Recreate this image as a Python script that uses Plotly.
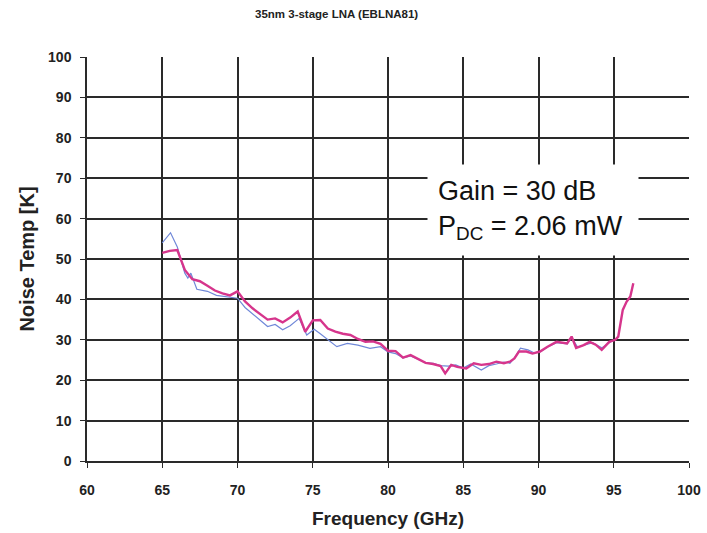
import plotly.graph_objects as go

title_text = "35nm 3-stage LNA (EBLNA81)"
x_title = "Frequency (GHz)"
y_title = "Noise Temp [K]"
x_ticks = [60, 65, 70, 75, 80, 85, 90, 95, 100]
y_ticks = [0, 10, 20, 30, 40, 50, 60, 70, 80, 90, 100]

pink_freq = [65.0, 65.5, 66.0, 66.5, 67.0, 67.5, 68.0, 68.5, 69.0, 69.5, 70.0, 70.5, 71.0, 71.5,
             72.0, 72.5, 73.0, 73.5, 74.0, 74.5, 75.0, 75.5, 76.0, 76.5, 77.0, 77.5, 78.0, 78.5,
             79.0, 79.5, 80.0, 80.5, 81.0, 81.5, 82.0, 82.5, 83.0, 83.5, 83.8, 84.2, 84.6, 85.2,
             85.7, 86.2, 86.7, 87.2, 87.7, 88.1, 88.4, 88.7, 89.2, 89.6, 90.1, 90.6, 91.2, 91.6,
             91.9, 92.2, 92.5, 93.0, 93.4, 93.8, 94.2, 94.7, 95.1, 95.3, 95.6, 95.85, 96.1, 96.3]
pink_temp = [51.5, 52.0, 52.2, 47.3, 45.0, 44.5, 43.4, 42.2, 41.5, 41.0, 42.0, 39.5, 37.8, 36.5,
             35.0, 35.3, 34.3, 35.5, 37.0, 32.0, 34.8, 34.9, 32.8, 32.0, 31.5, 31.2, 30.2, 29.5,
             29.6, 29.0, 27.3, 27.2, 25.6, 26.2, 25.3, 24.3, 24.0, 23.5, 21.7, 23.8, 23.3, 22.9,
             24.2, 23.8, 24.0, 24.6, 24.2, 24.6, 25.4, 27.1, 27.1, 26.6, 27.1, 28.3, 29.5, 29.3,
             29.1, 30.8, 28.0, 28.7, 29.5, 28.8, 27.5, 29.5, 30.0, 30.8, 37.4, 39.4, 40.7, 44.0]

blue_freq = [65.0, 65.55, 66.0, 66.5, 66.7, 66.9, 67.3, 68.0, 68.6, 69.5, 70.0, 70.5, 71.0, 71.5,
             72.0, 72.5, 73.0, 73.5, 74.1, 74.6, 75.1, 75.5, 75.9, 76.6, 77.3, 78.0, 78.8, 79.5,
             80.0, 80.5, 81.0, 81.5, 82.0, 82.5, 83.0, 83.5, 84.0, 84.5, 85.0, 85.5, 86.2, 86.7,
             87.2, 87.7, 88.1, 88.4, 88.8, 89.3, 89.7, 90.1, 90.6, 91.2, 91.9, 92.2, 92.6, 93.1,
             93.6, 94.2, 94.7, 95.0]
blue_temp = [54.0, 56.5, 53.0, 46.5, 45.3, 46.5, 42.5, 42.0, 41.0, 40.5, 40.3, 38.0, 36.5, 35.0,
             33.3, 33.8, 32.5, 33.5, 35.3, 31.2, 32.6, 31.5, 30.4, 28.3, 29.1, 28.7, 27.9, 28.3,
             27.0, 26.6, 25.5, 26.0, 25.2, 24.3, 24.2, 23.6, 23.5, 23.8, 23.0, 24.0, 22.5, 23.6,
             24.0, 24.5, 24.2, 25.5, 27.9, 27.5, 26.8, 27.0, 28.2, 29.3, 29.0, 30.5, 28.2, 28.8,
             29.3, 28.0, 29.3, 30.0]

annot_text = "Gain = 30 dB<br>P<sub>DC</sub> = 2.06 mW"

FONT = "Arial, Liberation Sans, sans-serif"

fig = go.Figure()
fig.add_trace(go.Scatter(x=blue_freq, y=blue_temp, mode="lines",
                         line=dict(color="#7088d8", width=1.2), showlegend=False))
fig.add_trace(go.Scatter(x=pink_freq, y=pink_temp, mode="lines",
                         line=dict(color="#d6358c", width=2.4), showlegend=False))

fig.update_layout(
    width=707, height=533,
    margin=dict(l=87, r=18, t=57, b=72),
    paper_bgcolor="white", plot_bgcolor="white",
    font=dict(family=FONT, color="black"),
    showlegend=False,
)
fig.add_annotation(text=title_text, xref="paper", yref="paper",
                   x=0.415, y=1.0, yshift=43, showarrow=False,
                   xanchor="center", yanchor="middle",
                   font=dict(size=11.5, family=FONT, color="#222", weight="bold"))

fig.update_xaxes(range=[60, 100], tickvals=x_ticks, showgrid=True, gridcolor="#2a2a2a",
                 gridwidth=1.5, showline=True, linecolor="#2a2a2a", linewidth=1.5,
                 ticks="outside", ticklen=5, tickcolor="#2a2a2a", ticklabelstandoff=10,
                 tickfont=dict(size=14, family=FONT, weight="bold", color="#222"),
                 zeroline=False, automargin=False,
                 title=dict(text=x_title, font=dict(size=19, family=FONT, weight="bold", color="#222"),
                            standoff=15))
fig.update_yaxes(range=[0, 100], tickvals=y_ticks, showgrid=True, gridcolor="#2a2a2a",
                 gridwidth=1.5, showline=True, linecolor="#2a2a2a", linewidth=1.5,
                 ticks="outside", ticklen=5, tickcolor="#2a2a2a", ticklabelstandoff=6,
                 tickfont=dict(size=14, family=FONT, weight="bold", color="#222"),
                 zeroline=False, automargin=False,
                 title=dict(text=y_title, font=dict(size=20, family=FONT, weight="bold", color="#222"),
                            standoff=8))

fig.add_annotation(text=annot_text, xref="x", yref="y", x=89.63, y=62.1,
                   showarrow=False, align="left", bgcolor="white",
                   width=190, height=70, borderpad=10,
                   font=dict(size=27, family=FONT, color="#111"))

fig.write_html("out.html")
